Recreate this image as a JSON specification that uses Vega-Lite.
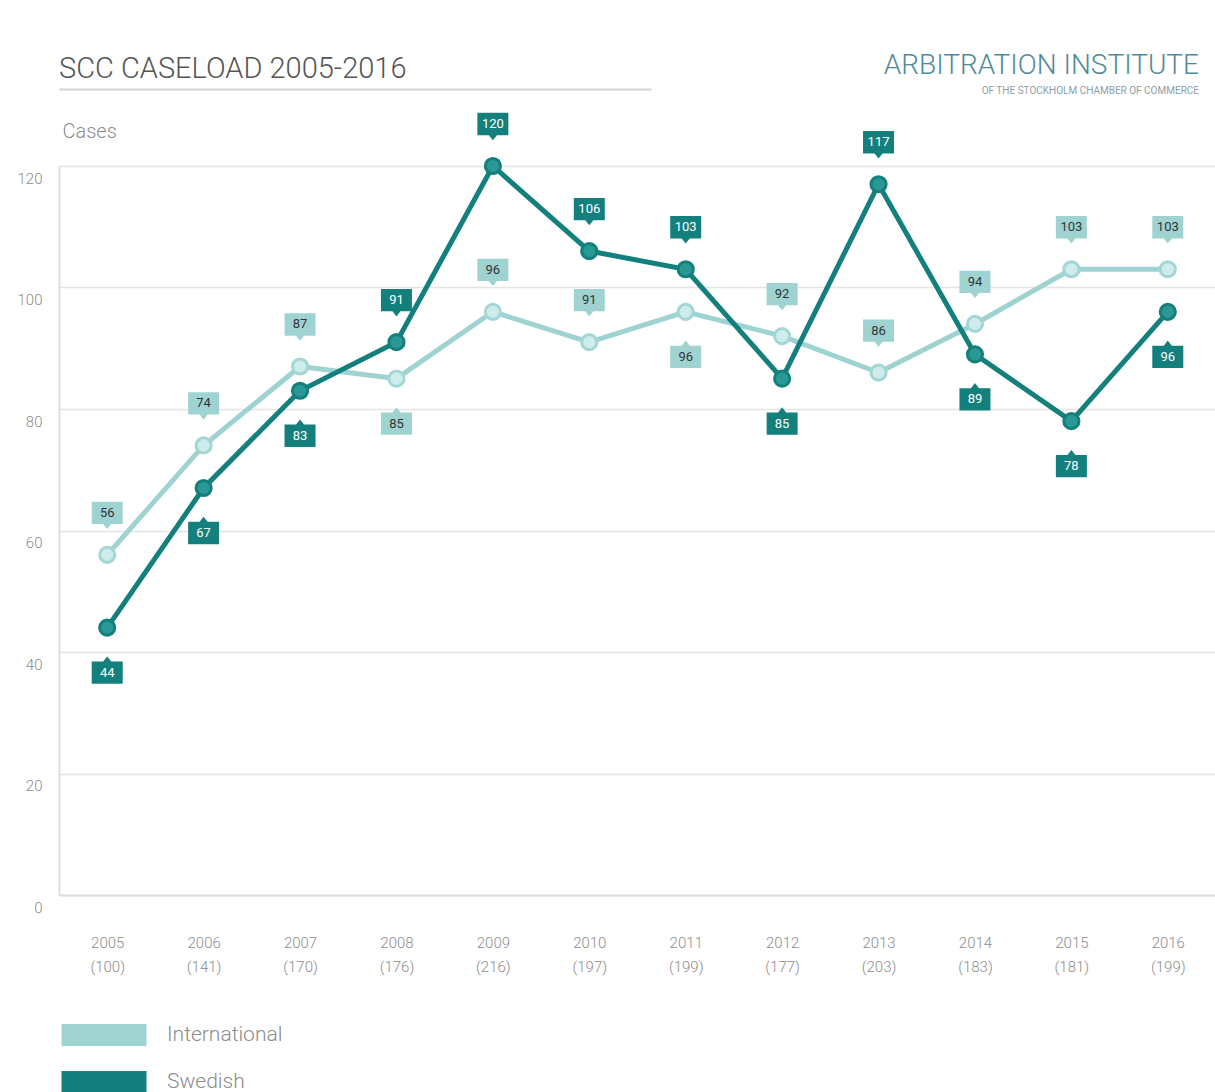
{
  "$schema": "https://vega.github.io/schema/vega-lite/v6.json",
  "background": "white",
  "padding": {"left": 17, "top": 51, "right": 0, "bottom": 0},
  "config": {
    "view": {"stroke": null},
    "font": "Roboto",
    "axis": {"labelFont": "Roboto", "titleFont": "Roboto"},
    "legend": {"labelFont": "Roboto"}
  },
  "bounds": "flush",
  "spacing": 78,
  "vconcat": [
    {
      "bounds": "flush",
      "spacing": 0,
      "hconcat": [
        {
          "width": 592,
          "height": 1,
          "title": {
            "text": "SCC CASELOAD 2005-2016",
            "anchor": "start",
            "frame": "group",
            "baseline": "alphabetic",
            "offset": -21,
            "fontSize": 29,
            "fontWeight": 300,
            "color": "#555555"
          },
          "data": {"values": [{"v": 0}]},
          "mark": {"type": "point", "opacity": 0},
          "encoding": {
            "x": {
              "field": "v",
              "type": "quantitative",
              "axis": {"domain": true, "domainColor": "#d4d4d4", "domainWidth": 2, "ticks": false, "labels": false, "grid": false, "title": null}
            }
          }
        },
        {
          "width": 548,
          "height": 1,
          "title": {
            "text": "ARBITRATION INSTITUTE",
            "subtitle": "OF THE STOCKHOLM CHAMBER OF COMMERCE",
            "anchor": "end",
            "frame": "group",
            "baseline": "alphabetic",
            "offset": -32,
            "fontSize": 28,
            "fontWeight": 300,
            "color": "#4f8a98",
            "subtitleFontSize": 10,
            "subtitleColor": "#8aa0a6",
            "subtitlePadding": -8
          },
          "data": {"values": [{"v": 0}]},
          "mark": {"type": "point", "opacity": 0}
        }
      ]
    },
    {
      "width": 1157,
      "height": 729,
      "data": {
        "values": [
          {"year": "2005", "series": "International", "cases": 56},
          {"year": "2006", "series": "International", "cases": 74},
          {"year": "2007", "series": "International", "cases": 87},
          {"year": "2008", "series": "International", "cases": 85},
          {"year": "2009", "series": "International", "cases": 96},
          {"year": "2010", "series": "International", "cases": 91},
          {"year": "2011", "series": "International", "cases": 96},
          {"year": "2012", "series": "International", "cases": 92},
          {"year": "2013", "series": "International", "cases": 86},
          {"year": "2014", "series": "International", "cases": 94},
          {"year": "2015", "series": "International", "cases": 103},
          {"year": "2016", "series": "International", "cases": 103},
          {"year": "2005", "series": "Swedish", "cases": 44},
          {"year": "2006", "series": "Swedish", "cases": 67},
          {"year": "2007", "series": "Swedish", "cases": 83},
          {"year": "2008", "series": "Swedish", "cases": 91},
          {"year": "2009", "series": "Swedish", "cases": 120},
          {"year": "2010", "series": "Swedish", "cases": 106},
          {"year": "2011", "series": "Swedish", "cases": 103},
          {"year": "2012", "series": "Swedish", "cases": 85},
          {"year": "2013", "series": "Swedish", "cases": 117},
          {"year": "2014", "series": "Swedish", "cases": 89},
          {"year": "2015", "series": "Swedish", "cases": 78},
          {"year": "2016", "series": "Swedish", "cases": 96}
        ]
      },
      "transform": [
        {"joinaggregate": [{"op": "sum", "field": "cases", "as": "total"}], "groupby": ["year"]},
        {"calculate": "datum.year + '|(' + datum.total + ')'", "as": "period"},
        {"calculate": "(datum.series == 'Swedish' && indexof(['2005','2006','2007','2012','2014','2015','2016'], datum.year) >= 0) || (datum.series == 'International' && indexof(['2008','2011'], datum.year) >= 0) ? 'below' : 'above'", "as": "side"}
      ],
      "encoding": {
        "x": {
          "field": "period",
          "type": "ordinal",
          "axis": {
            "title": null,
            "labelExpr": "split(datum.value, '|')",
            "labelAngle": 0,
            "labelFontSize": 15,
            "labelFontWeight": 300,
            "labelColor": "#8c8c8c",
            "labelLineHeight": 24,
            "labelPadding": 40,
            "ticks": false,
            "domain": true,
            "domainColor": "#dddddd",
            "domainWidth": 2,
            "grid": false
          }
        },
        "y": {
          "field": "cases",
          "type": "quantitative",
          "scale": {"domain": [0, 120]},
          "axis": {
            "values": [0, 20, 40, 60, 80, 100, 120],
            "title": "Cases",
            "titleAngle": 0,
            "titleAlign": "left",
            "titleBaseline": "alphabetic",
            "titleX": 3,
            "titleY": -29,
            "titleFontSize": 20,
            "titleFontWeight": 300,
            "titleColor": "#8c8c8c",
            "labelFontSize": 15,
            "labelFontWeight": 300,
            "labelColor": "#8c8c8c",
            "labelPadding": 17,
            "labelOffset": 12,
            "ticks": false,
            "domain": true,
            "domainColor": "#dddddd",
            "domainWidth": 2,
            "grid": true,
            "gridColor": "#e4e4e4",
            "gridWidth": 1.5
          }
        },
        "color": {
          "field": "series",
          "type": "nominal",
          "scale": {"domain": ["International", "Swedish"], "range": ["#9fd3d1", "#13807d"]},
          "legend": {
            "title": null,
            "orient": "none",
            "direction": "vertical",
            "legendX": 28,
            "legendY": 930,
            "symbolType": "M-2.5,-0.65H2.5V0.65H-2.5Z",
            "symbolSize": 1156,
            "symbolStrokeWidth": 0,
            "labelFontSize": 21,
            "labelFontWeight": 300,
            "labelColor": "#8c8c8c",
            "labelOffset": 46,
            "rowPadding": 18,
            "encode": {
              "symbols": {
                "update": {
                  "fill": {"scale": "color", "field": "value"},
                  "stroke": {"value": "transparent"},
                  "opacity": {"value": 1}
                }
              }
            }
          }
        }
      },
      "layer": [
        {"mark": {"type": "line", "strokeWidth": 5}},
        {
          "mark": {"type": "point", "filled": true, "size": 230, "strokeWidth": 3, "opacity": 1},
          "encoding": {
            "fill": {"condition": {"test": "datum.series == 'Swedish'", "value": "#2a9894"}, "value": "#cdeceb"},
            "stroke": {"condition": {"test": "datum.series == 'Swedish'", "value": "#13807d"}, "value": "#a4d6d4"}
          }
        },
        {
          "transform": [{"filter": "datum.side == 'above'"}],
          "mark": {"type": "point", "filled": true, "size": 961, "strokeWidth": 0, "opacity": 1, "yOffset": -42, "shape": "M-1,-0.72H1V0.72H0.26L0,1.05L-0.26,0.72H-1Z"}
        },
        {
          "transform": [{"filter": "datum.side == 'below'"}],
          "mark": {"type": "point", "filled": true, "size": 961, "strokeWidth": 0, "opacity": 1, "yOffset": 45, "shape": "M-1,0.72H1V-0.72H0.26L0,-1.05L-0.26,-0.72H-1Z"}
        },
        {
          "transform": [{"filter": "datum.side == 'above'"}],
          "mark": {"type": "text", "fontSize": 13, "yOffset": -42, "baseline": "middle", "align": "center"},
          "encoding": {
            "text": {"field": "cases", "type": "quantitative"},
            "color": {"condition": {"test": "datum.series == 'Swedish'", "value": "#ffffff"}, "value": "#333333"}
          }
        },
        {
          "transform": [{"filter": "datum.side == 'below'"}],
          "mark": {"type": "text", "fontSize": 13, "yOffset": 45, "baseline": "middle", "align": "center"},
          "encoding": {
            "text": {"field": "cases", "type": "quantitative"},
            "color": {"condition": {"test": "datum.series == 'Swedish'", "value": "#ffffff"}, "value": "#333333"}
          }
        }
      ]
    }
  ]
}
